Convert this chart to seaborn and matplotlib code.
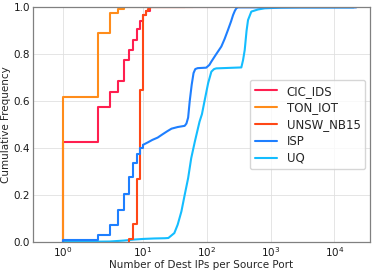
import numpy as np
import pandas as pd
import seaborn as sns
import matplotlib.pyplot as plt
from matplotlib.ticker import NullLocator

# cumulative frequency of "dest IPs per source port"
cic_x = [1, 2, 3, 4, 5, 6, 7, 8, 9, 10, 11, 13, 230]
cic_y = [0.425, 0.575, 0.641, 0.688, 0.776, 0.818, 0.861, 0.906, 0.943, 0.968, 0.985, 1.0, 1.0]

ton_x = [1, 2, 3, 4, 5, 60]
ton_y = [0.62, 0.889, 0.974, 0.993, 1.0, 1.0]

unsw_x = [6, 7, 8, 9, 10, 11, 12, 13, 45]
unsw_y = [0.013, 0.075, 0.27, 0.648, 0.968, 0.985, 0.993, 1.0, 1.0]

# ISP: discrete steps for small counts, then a smooth curve
isp_step_x = [1, 2, 3, 4, 5, 6, 7, 8, 9, 10]
isp_step_y = [0.007, 0.03, 0.071, 0.135, 0.206, 0.275, 0.335, 0.376, 0.40, 0.414]
isp_curve_x = [10, 12, 14, 17, 20, 24, 28, 35, 45, 48, 51, 54, 58, 62, 66, 72, 98,
               110, 118, 140, 169, 190, 215, 240, 258, 275, 290, 308, 22000]
isp_curve_y = [0.414, 0.425, 0.435, 0.445, 0.458, 0.472, 0.483, 0.490, 0.495, 0.505,
               0.53, 0.60, 0.67, 0.72, 0.737, 0.741, 0.743, 0.755, 0.769, 0.80, 0.833,
               0.865, 0.904, 0.94, 0.967, 0.985, 0.996, 1.0, 1.0]

uq_x = [1, 3, 5, 7, 10, 15, 22, 25, 31, 35, 40, 45, 51, 57, 65, 77, 84, 93, 105, 118,
        130, 141, 348, 370, 393, 420, 443, 499, 635, 808, 1500, 2860, 20000]
uq_y = [0.0, 0.002, 0.006, 0.010, 0.013, 0.015, 0.016, 0.017, 0.038, 0.074, 0.13, 0.20,
        0.272, 0.357, 0.428, 0.513, 0.545, 0.606, 0.677, 0.726, 0.737, 0.740, 0.744,
        0.775, 0.818, 0.90, 0.946, 0.982, 0.991, 0.996, 0.999, 1.0, 1.0]

colors = {"CIC_IDS": "#ff1f4f", "TON_IOT": "#ff8c1a", "UNSW_NB15": "#ff4716",
          "ISP": "#1e7fff", "UQ": "#14bdff"}

sns.set_theme(style="whitegrid")
plt.rcParams.update({
    "font.family": ["DejaVu Sans"],
    "axes.edgecolor": "0.5",
    "axes.linewidth": 0.9,
    "grid.color": "0.88",
    "grid.linewidth": 0.6,
    "xtick.labelsize": 7.5,
    "ytick.labelsize": 7.5,
    "xtick.color": "0.1",
    "ytick.color": "0.1",
    "axes.labelcolor": "0.15",
})

fig = plt.figure(figsize=(3.74, 2.73), dpi=100)
ax = fig.add_axes([0.088, 0.1136, 0.901, 0.8594])


def step_df(xs, ys):
    # ecdf starts from zero at the first value
    return pd.DataFrame({"x": np.r_[xs[0], xs], "y": np.r_[0.0, ys]})


lw = 1.5
series = [
    ("CIC_IDS", step_df(cic_x, cic_y), "steps-post", 2.1),
    ("TON_IOT", step_df(ton_x, ton_y), "steps-post", 2.2),
    ("UNSW_NB15", step_df(unsw_x, unsw_y), "steps-post", 2.3),
    ("ISP", step_df(isp_step_x, isp_step_y), "steps-post", 2.4),
    ("UQ", pd.DataFrame({"x": uq_x, "y": uq_y}), "default", 2.0),
]
for name, d, style, z in series:
    sns.lineplot(data=d, x="x", y="y", estimator=None, sort=False, drawstyle=style,
                 color=colors[name], lw=lw, label=name, zorder=z, ax=ax)
sns.lineplot(x=isp_curve_x, y=isp_curve_y, estimator=None, sort=False,
             color=colors["ISP"], lw=lw, zorder=2.4, ax=ax)

ax.set_xscale("symlog")
ax.set_xlim(0.153, 36000)
ax.set_ylim(0, 1)
ax.set_xticks([1, 10, 100, 1000, 10000])
ax.xaxis.set_minor_locator(NullLocator())
ax.set_yticks([0.0, 0.2, 0.4, 0.6, 0.8, 1.0])
ax.tick_params(length=0, pad=2)
ax.set_xlabel("Number of Dest IPs per Source Port", fontsize=7.5, labelpad=1)
ax.set_ylabel("Cumulative Frequency", fontsize=7.5, labelpad=2)

ax.legend(loc="center right", fontsize=8.5, frameon=True, framealpha=0.8,
          handlelength=1.9, borderaxespad=0.4, labelspacing=0.32)

fig.savefig("out.png", dpi=100)
